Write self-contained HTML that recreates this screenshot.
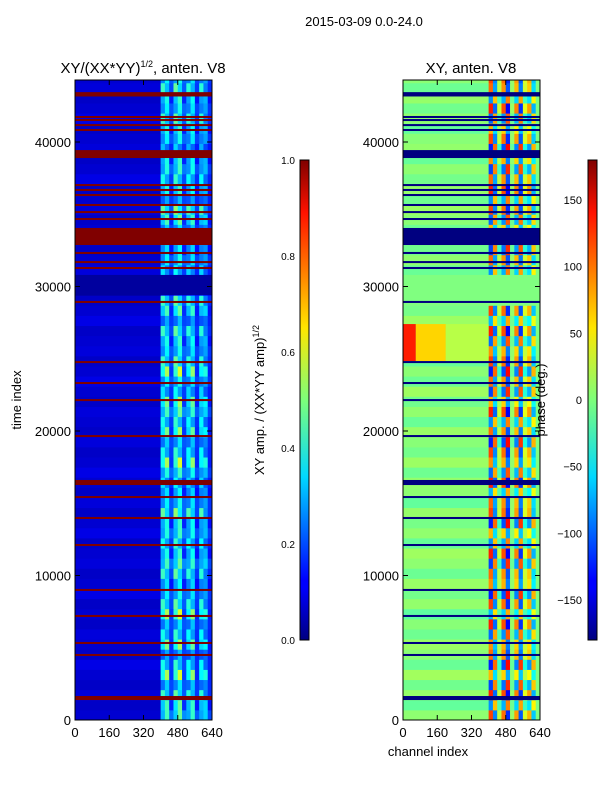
<!DOCTYPE html>
<html><head><meta charset="utf-8">
<style>
body{margin:0;background:#fff;}
svg{display:block;font-family:"Liberation Sans",sans-serif;}
text{fill:#000;}
</style></head>
<body>
<svg id="chart" width="600" height="800" viewBox="0 0 600 800">
<defs>
<clipPath id="clipL"><rect x="75" y="80" width="137" height="640"/></clipPath>
<clipPath id="clipR"><rect x="403" y="80" width="137" height="640"/></clipPath>
<linearGradient id="jet" x1="0" y1="1" x2="0" y2="0">
<stop offset="0" stop-color="#000080"/><stop offset="0.11" stop-color="#0000ff"/>
<stop offset="0.125" stop-color="#0000ff"/><stop offset="0.34" stop-color="#00d8ff"/>
<stop offset="0.5" stop-color="#7dff7a"/><stop offset="0.65" stop-color="#ffe600"/>
<stop offset="0.89" stop-color="#ff1200"/><stop offset="1" stop-color="#800000"/>
</linearGradient>
</defs>
<text x="364" y="26" text-anchor="middle" font-size="13">2015-03-09 0.0-24.0</text>
<text x="143" y="73" text-anchor="middle" font-size="15">XY/(XX*YY)<tspan font-size="9" dy="-6">1/2</tspan><tspan dy="6">, anten. V8</tspan></text>
<text x="471" y="73" text-anchor="middle" font-size="15">XY, anten. V8</text>
<g id="heatL" clip-path="url(#clipL)"></g>
<g id="heatR" clip-path="url(#clipR)"></g>
<rect x="75" y="80" width="137" height="640" fill="none" stroke="#000"/>
<rect x="403" y="80" width="137" height="640" fill="none" stroke="#000"/>
<g id="axes" font-size="13"></g>
<text transform="translate(21,400) rotate(-90)" text-anchor="middle" font-size="13">time index</text>
<text x="428" y="756" text-anchor="middle" font-size="13">channel index</text>
<rect x="300" y="160" width="9" height="480" fill="url(#jet)" stroke="#000"/>
<rect x="588" y="160" width="9" height="480" fill="url(#jet)" stroke="#000"/>
<text transform="translate(264,400) rotate(-90)" text-anchor="middle" font-size="13">XY amp. / (XX*YY amp)<tspan font-size="9" dy="-5">1/2</tspan></text>
<text transform="translate(545,400) rotate(-90)" text-anchor="middle" font-size="13">phase (deg.)</text>
</svg>
<script>
const NS='http://www.w3.org/2000/svg';
const tMax=44290, binT=700;
// flagged time ranges [start,end]
const flagStarts=[1380,4430,5260,7130,8930,12040,13910,15360,16260,19580,22070,23250,24700,28860,31210,31620,32250,32870,34600,35080,35570,36260,36610,36950,38890,40760,41100,41450,41660,43150];
const flagEnds  =[1660,4570,5400,7270,9070,12180,14050,15500,16610,19720,22210,23390,24840,29000,31350,31760,32390,34050,34740,35220,35710,36400,36750,37090,39440,40900,41240,41590,41800,43450];
// quiet band (no signal)
const quietStart=29410, quietEnd=30800;
// channel bins (20 ch each) in noisy region 400-640
const ampCol=[0.32,0.38,0.12,0.36,0.42,0.14,0.30,0.36,0.10,0.30,0.26,0.08];
const phaseCol=[140,-110,30,120,-150,10,100,-130,40,90,-80,0];
// per time bin (700 each, from t=0 upward)
const ampRow=[0.9,0.7,0.8,0.6,0.9,0.7,0.5,0.8,0.7,0.6,0.9,0.8,0.7,0.5,0.8,0.9,0.6,0.7,0.8,0.6,0.9,0.7,0.5,0.6,0.8,0.9,0.7,0.6,0.8,0.7,0.9,0.8,0.6,0.7,0.9,0.8,0.7,0.6,0.8,0.5,0.7,0.8,0.1,0.1,0.6,0.7,0.5,0.8,0.6,0.7,0.9,0.5,0.6,0.7,0.8,0.6,0.5,0.7,0.6,0.8,0.7,0.6,0.8,0.7];
const phaseRow=[0.8,-0.6,0.9,-0.8,0.5,-0.9,0.7,0.6,-0.7,0.9,-0.5,0.8,-0.9,0.6,0.7,-0.8,0.9,-0.6,0.5,-0.9,0.8,0.7,-0.5,0.9,-0.7,0.6,0.8,-0.9,0.7,-0.6,0.9,0.5,-0.8,0.7,-0.9,0.8,0.6,-0.7,0.9,-0.5,0.8,0.0,0.0,0.1,-0.6,0.7,-0.8,0.9,0.5,-0.7,0.8,-0.6,0.9,0.7,-0.8,0.6,-0.9,0.8,0.5,-0.7,0.9,-0.6,0.7,0.8];
// low-channel region (0-400) base values per time bin
const lowAmp=[0.08,0.07,0.09,0.07,0.08,0.10,0.07,0.08,0.09,0.07,0.08,0.07,0.10,0.08,0.07,0.09,0.08,0.07,0.10,0.08,0.07,0.09,0.07,0.08,0.10,0.08,0.07,0.09,0.07,0.08,0.09,0.07,0.08,0.10,0.08,0.07,0.09,0.08,0.07,0.10,0.08,0.07,0.03,0.03,0.09,0.08,0.07,0.10,0.08,0.07,0.09,0.08,0.07,0.10,0.08,0.07,0.09,0.08,0.07,0.10,0.08,0.07,0.09,0.08];
const lowPhase=[5,-10,8,-5,12,-8,4,10,-6,3,-12,7,-4,9,-7,5,11,-9,6,-3,8,-10,5,7,-6,10,-4,3,9,-8,6,-5,11,-7,4,-9,8,5,-6,10,-3,0,0,0,-8,6,-5,9,-7,4,10,-6,8,-4,5,-9,7,3,-10,6,-5,8,-7,4];
// hot phase band
const bandT0=[24840,24840,24840];
const bandT1=[27400,27400,27400];
const bandC0=[0,60,200];
const bandC1=[60,200,400];
const bandDeg=[125,60,20];

function yS(t){return 720-t*640/tMax;}
function xL(c){return 75+c*137/640;}
function xR(c){return 403+c*137/640;}
function cl(v){return Math.max(0,Math.min(1,v));}
function jet(v){v=cl(v);const r=cl(1.5-Math.abs(4*v-3)),g=cl(1.5-Math.abs(4*v-2)),b=cl(1.5-Math.abs(4*v-1));return `rgb(${Math.round(r*255)},${Math.round(g*255)},${Math.round(b*255)})`;}
function rect(g,x,y,w,h,f,name){const r=document.createElementNS(NS,'rect');r.setAttribute('x',x);r.setAttribute('y',y);r.setAttribute('width',w);r.setAttribute('height',h);r.setAttribute('fill',f);


g.appendChild(r);}
const gL=document.getElementById('heatL'),gR=document.getElementById('heatR');
for(let i=0;i<ampRow.length;i++){
  const t0=i*binT,t1=t0+binT,y0=yS(t1),h=yS(t0)-y0+0.5;
  rect(gL,xL(0),y0,xL(400)-xL(0)+0.5,h,jet(lowAmp[i]),'amp-cell-low');
  rect(gR,xR(0),y0,xR(400)-xR(0)+0.5,h,jet((lowPhase[i]+180)/360),'phase-cell-low');
  for(let j=0;j<ampCol.length;j++){
    const c0=400+j*20;
    const a=0.1+ampCol[j]*ampRow[i]*(1+0.3*((i+j)%3-1));
    rect(gL,xL(c0),y0,xL(c0+20)-xL(c0)+0.5,h,jet(a),'amp-cell');
    const p=Math.max(-180,Math.min(180,phaseCol[j]*phaseRow[i]));
    rect(gR,xR(c0),y0,xR(c0+20)-xR(c0)+0.5,h,jet((p+180)/360),'phase-cell');
  }
}
for(let k=0;k<bandDeg.length;k++){
  rect(gR,xR(bandC0[k]),yS(bandT1[k]),xR(bandC1[k])-xR(bandC0[k]),yS(bandT0[k])-yS(bandT1[k]),jet((bandDeg[k]+180)/360),'phase-band');
}
rect(gL,75,yS(quietEnd),137,yS(quietStart)-yS(quietEnd),jet(0.03),'quiet-band');
rect(gR,403,yS(quietEnd),137,yS(quietStart)-yS(quietEnd),jet(0.5),'quiet-band');
for(let k=0;k<flagStarts.length;k++){
  const y0=yS(flagEnds[k]),h=Math.max(1,yS(flagStarts[k])-y0);
  rect(gL,75,y0,137,h,'#800000','flag-stripe');
  rect(gR,403,y0,137,h,'#000080','flag-stripe');
}
const ax=document.getElementById('axes');
function txt(x,y,s,anchor,name){const t=document.createElementNS(NS,'text');t.setAttribute('x',x);t.setAttribute('y',y);t.setAttribute('text-anchor',anchor);t.textContent=s;


ax.appendChild(t);}
function line(x1,y1,x2,y2,name){const l=document.createElementNS(NS,'line');l.setAttribute('x1',x1);l.setAttribute('y1',y1);l.setAttribute('x2',x2);l.setAttribute('y2',y2);l.setAttribute('stroke','#000');


ax.appendChild(l);}
const yTicks=[0,10000,20000,30000,40000];
const xTicks=[0,160,320,480,640];
for(const [x0,fx] of [[75,xL],[403,xR]]){
  for(const t of yTicks){const y=yS(t);line(x0,y,x0+5,y,'y-tick');line(x0+137,y,x0+132,y,'y-tick');txt(x0-4,y+5,String(t),'end','y-tick-label');}
  for(const c of xTicks){const x=fx(c);line(x,720,x,715,'x-tick');line(x,80,x,85,'x-tick');txt(x,737,String(c),'middle','x-tick-label');}
}
const ampTicks=[0.0,0.2,0.4,0.6,0.8,1.0];
for(const v of ampTicks){const y=640-v*480;line(300,y,304,y,'colorbar-tick');line(309,y,305,y,'colorbar-tick');
  const t=document.createElementNS(NS,'text');t.setAttribute('x',295);t.setAttribute('y',y+4);t.setAttribute('text-anchor','end');t.setAttribute('font-size','10');t.textContent=v.toFixed(1);
  
  
  ax.appendChild(t);}
const phTicks=[-150,-100,-50,0,50,100,150];
for(const v of phTicks){const y=640-(v+180)/360*480;line(588,y,592,y,'colorbar-tick');line(597,y,593,y,'colorbar-tick');
  const t=document.createElementNS(NS,'text');t.setAttribute('x',582);t.setAttribute('y',y+4);t.setAttribute('text-anchor','end');t.setAttribute('font-size','11');t.textContent=v<0?'\u2212'+(-v):String(v);
  
  
  ax.appendChild(t);}
</script>
</body></html>
